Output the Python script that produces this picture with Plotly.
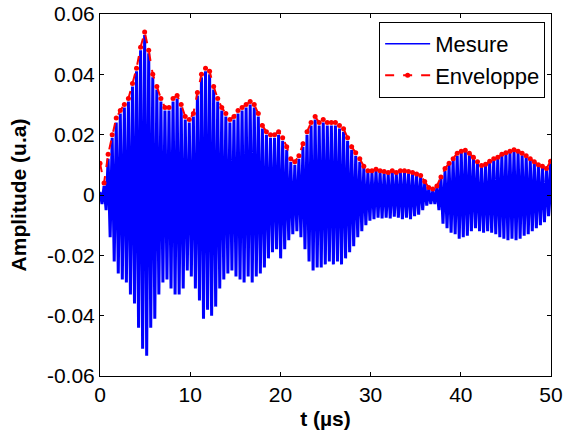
import numpy as np
import plotly.graph_objects as go

# Carrier period of the measured burst (µs), read from the spacing of the peaks
period_us = 0.45

# Red envelope values at each positive peak (u.a)
enveloppe = [
    0.0105, 0.004, 0.0135, 0.020, 0.0255, 0.028, 0.030, 0.032, 0.037, 0.042,
    0.049, 0.054, 0.048, 0.040, 0.036, 0.032, 0.029, 0.029, 0.032, 0.033,
    0.030, 0.026, 0.025, 0.027, 0.034, 0.040, 0.042, 0.041, 0.036, 0.032,
    0.029, 0.027, 0.025, 0.026, 0.028, 0.029, 0.030, 0.031, 0.030, 0.027,
    0.023, 0.021, 0.020, 0.020, 0.021, 0.019, 0.016, 0.012, 0.011, 0.013,
    0.017, 0.021, 0.024, 0.026, 0.024, 0.025, 0.024, 0.024, 0.024, 0.023,
    0.022, 0.019, 0.016, 0.014, 0.012, 0.0095, 0.008, 0.008, 0.0085, 0.008,
    0.0078, 0.0075, 0.008, 0.0075, 0.008, 0.008, 0.0078, 0.0075, 0.007, 0.0065,
    0.0045, 0.0025, 0.002, 0.003, 0.006, 0.0088, 0.0105, 0.012, 0.0138, 0.0145,
    0.0148, 0.0138, 0.0125, 0.011, 0.0098, 0.0102, 0.0112, 0.012, 0.0125, 0.0135,
    0.014, 0.0145, 0.015, 0.0145, 0.0138, 0.013, 0.012, 0.011, 0.010, 0.0095,
    0.0088, 0.0112,
]

# Blue signal: positive peak of each cycle (u.a)
mesure_max = [
    0.001, 0.003, 0.012, 0.019, 0.024, 0.027, 0.029, 0.031, 0.036, 0.041,
    0.048, 0.053, 0.047, 0.039, 0.035, 0.031, 0.028, 0.028, 0.031, 0.032,
    0.029, 0.025, 0.024, 0.026, 0.033, 0.039, 0.041, 0.040, 0.035, 0.031,
    0.028, 0.026, 0.024, 0.025, 0.027, 0.028, 0.029, 0.030, 0.029, 0.026,
    0.022, 0.020, 0.019, 0.019, 0.020, 0.018, 0.015, 0.011, 0.010, 0.012,
    0.016, 0.020, 0.023, 0.025, 0.023, 0.024, 0.023, 0.023, 0.023, 0.022,
    0.021, 0.018, 0.015, 0.013, 0.011, 0.009, 0.0075, 0.0075, 0.008, 0.0075,
    0.0072, 0.007, 0.0075, 0.007, 0.0075, 0.0075, 0.0072, 0.007, 0.0065, 0.006,
    0.004, 0.002, 0.0015, 0.0025, 0.0055, 0.008, 0.010, 0.0115, 0.013, 0.014,
    0.0142, 0.0132, 0.012, 0.0105, 0.0092, 0.0098, 0.0106, 0.0115, 0.012, 0.013,
    0.0135, 0.014, 0.0145, 0.014, 0.0132, 0.0125, 0.0115, 0.0105, 0.0095, 0.009,
    0.0083, 0.0105,
]

# Blue signal: negative peak of each cycle (u.a)
mesure_min = [
    -0.003, -0.005, -0.014, -0.022, -0.026, -0.028, -0.029, -0.033, -0.036, -0.044,
    -0.051, -0.0533, -0.044, -0.041, -0.033, -0.029, -0.028, -0.031, -0.033, -0.033,
    -0.031, -0.025, -0.027, -0.031, -0.035, -0.041, -0.038, -0.040, -0.037, -0.031,
    -0.028, -0.026, -0.025, -0.027, -0.028, -0.029, -0.027, -0.029, -0.027, -0.026,
    -0.024, -0.021, -0.019, -0.018, -0.021, -0.018, -0.015, -0.013, -0.012, -0.014,
    -0.018, -0.022, -0.025, -0.024, -0.024, -0.023, -0.022, -0.023, -0.022, -0.023,
    -0.021, -0.019, -0.017, -0.014, -0.012, -0.010, -0.0085, -0.008, -0.0075, -0.0078,
    -0.0075, -0.0078, -0.0072, -0.0075, -0.008, -0.0075, -0.008, -0.007, -0.0065, -0.005,
    -0.0035, -0.003, -0.003, -0.005, -0.0095, -0.011, -0.0125, -0.013, -0.0145, -0.014,
    -0.0135, -0.012, -0.011, -0.012, -0.0125, -0.012, -0.0125, -0.013, -0.014, -0.0145,
    -0.015, -0.0145, -0.015, -0.0145, -0.0135, -0.013, -0.012, -0.011, -0.010, -0.009,
    -0.007, -0.008,
]

x_ticks = [0, 10, 20, 30, 40, 50]
y_ticks = [-0.06, -0.04, -0.02, 0, 0.02, 0.04, 0.06]
y_ticklabels = ["-0.06", "-0.04", "-0.02", "0", "0.02", "0.04", "0.06"]

n = len(mesure_max)
t_max = [period_us * k for k in range(n)]
t_min = [period_us * k + period_us / 2 for k in range(n)]

t_sig = [0.0]
v_sig = [0.0]
for k in range(n):
    t_sig += [t_max[k], t_min[k]]
    v_sig += [mesure_max[k], mesure_min[k]]

font_family = "Liberation Sans, Arial, sans-serif"

fig = go.Figure()
fig.add_trace(go.Scatter(
    x=t_sig, y=v_sig, mode="lines", name="Mesure", showlegend=False,
    line=dict(color="#0000FF", width=3),
))
# legend entry with the thin line style shown in the reference legend
fig.add_trace(go.Scatter(
    x=[None], y=[None], mode="lines", name="Mesure",
    line=dict(color="#0000FF", width=1.5),
))
fig.add_trace(go.Scatter(
    x=t_max, y=enveloppe, mode="lines+markers", name="Enveloppe",
    line=dict(color="#FF0000", width=2, dash="dash"),
    marker=dict(color="#FF0000", size=5),
))

axis_common = dict(
    showline=True, linecolor="black", linewidth=1, mirror="ticks",
    ticks="inside", ticklen=4, tickcolor="black",
    showgrid=False, zeroline=False, automargin=False,
    tickfont=dict(family=font_family, size=21, color="black"),
)

fig.update_layout(
    width=565, height=434,
    paper_bgcolor="white", plot_bgcolor="white",
    margin=dict(l=100, r=14, t=14, b=58),
    font=dict(family=font_family, color="black"),
    xaxis=dict(
        range=[0, 50], tickvals=x_ticks,
        title=dict(text="<b>t (µs)</b>", font=dict(size=21), standoff=6),
        **axis_common,
    ),
    yaxis=dict(
        range=[-0.06, 0.06], tickvals=y_ticks, ticktext=y_ticklabels,
        title=dict(text="<b>Amplitude (u.a)</b>", font=dict(size=21), standoff=14),
        **axis_common,
    ),
    legend=dict(
        x=0.987, y=0.978, xanchor="right", yanchor="top",
        bordercolor="black", borderwidth=1, bgcolor="white",
        font=dict(family=font_family, size=22, color="black"),
        tracegroupgap=0, itemwidth=45,
    ),
    showlegend=True,
)

fig.write_html(
    "out.html",
    config={"displayModeBar": False},
    post_script="document.body.style.margin='0px';document.body.style.overflow='hidden';",
)
